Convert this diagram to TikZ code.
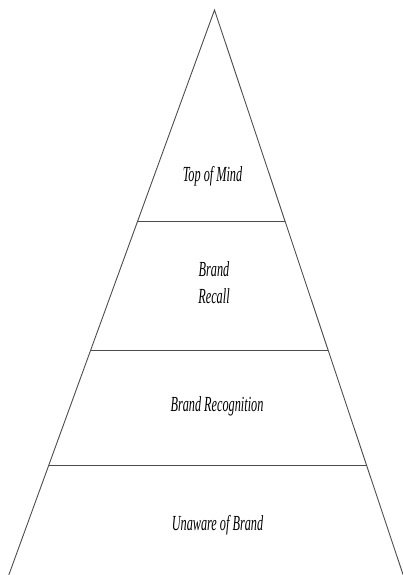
\documentclass[tikz,border=0pt]{standalone}
\usepackage{fontspec}
\usetikzlibrary{calc}
\newfontfamily\lab[FakeStretch=0.57]{Liberation Serif}
\tikzset{
  edge/.style={draw=black!70, line width=0.9pt},
  lbl/.style={font=\lab\itshape\fontsize{21.5}{26.5}\selectfont, text=black, align=center, inner sep=0pt, anchor=base}
}
\begin{document}
\begin{tikzpicture}[x=1pt,y=-1pt]
\useasboundingbox (0,0) rectangle (403,575);
\clip (0,0) rectangle (403,575);
\coordinate (apex) at (214.5,10);
\coordinate (lf) at (8.8,575);
\coordinate (rf) at (403.2,575);
\draw[edge] (lf) -- (apex) -- (rf);
\coordinate (l1) at ($(apex)!{211/565}!(lf)$);
\coordinate (r1) at ($(apex)!{211/565}!(rf)$);
\coordinate (l2) at ($(apex)!{340/565}!(lf)$);
\coordinate (r2) at ($(apex)!{340/565}!(rf)$);
\coordinate (l3) at ($(apex)!{455/565}!(lf)$);
\coordinate (r3) at ($(apex)!{455/565}!(rf)$);
\draw[edge] (l1) -- (r1);
\draw[edge] (l2) -- (r2);
\draw[edge] (l3) -- (r3);
\node[lbl] (top) at (212.5,181) {Top of Mind};
\node[lbl] (recall) at (214,303) {Brand\\Recall};
\node[lbl] (recog) at (217,411.7) {Brand Recognition};
\node[lbl] (unaware) at (217.5,530) {Unaware of Brand};
\end{tikzpicture}
\end{document}
